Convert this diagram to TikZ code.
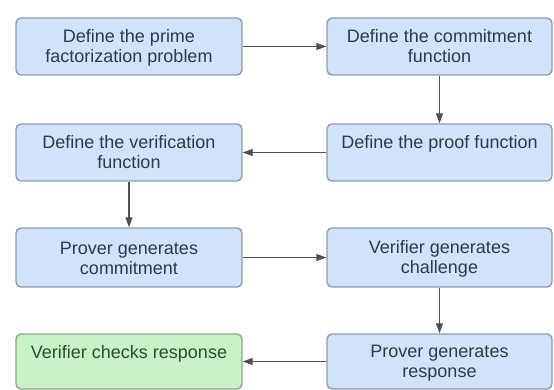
\documentclass[tikz,border=0pt]{standalone}
\usepackage{fontspec}
\setmainfont{Liberation Sans}
\usetikzlibrary{arrows.meta}
\definecolor{bluefill}{HTML}{D0E3FA}
\definecolor{blueline}{HTML}{8C9CB0}
\definecolor{bluetext}{HTML}{2B3A48}
\definecolor{greenfill}{HTML}{C8F3C6}
\definecolor{greenline}{HTML}{8FA58F}
\definecolor{greentext}{HTML}{2F4A30}
\definecolor{arrowcol}{HTML}{505050}
\newcommand\lnstrut{\rule[-3pt]{0pt}{19pt}}
\tikzset{
  flowbox/.style={draw=blueline, fill=bluefill, text=bluetext, line width=1.4pt,
    rounded corners=5pt, align=center, inner sep=0pt,
    font=\fontsize{18}{20}\selectfont},
  leftbox/.style={flowbox, minimum width=226pt},
  rightbox/.style={flowbox, minimum width=225pt},
  greenbox/.style={draw=greenline, fill=greenfill, text=greentext},
  flowarrow/.style={draw=arrowcol, line width=1.2pt, -{Triangle[length=10pt,width=7pt]}}
}
\begin{document}
\begin{tikzpicture}[x=1pt,y=-1pt]
\useasboundingbox (0,0) rectangle (554,390);
\node[leftbox, minimum height=57pt] (prime) at (129,46.5) {\lnstrut Define the prime\\\lnstrut factorization problem};
\node[rightbox, minimum height=57pt] (commit) at (439.5,46.5) {\lnstrut Define the commitment\\\lnstrut function};
\node[rightbox, minimum height=57pt] (proof) at (439.5,152.5) {\lnstrut Define the proof function\\\lnstrut};
\node[leftbox, minimum height=57pt] (verif) at (129,152.5) {\lnstrut Define the verification\\\lnstrut function};
\node[leftbox, minimum height=59pt] (pcommit) at (129,257.5) {\lnstrut Prover generates\\\lnstrut commitment};
\node[rightbox, minimum height=59pt] (vchal) at (439.5,257.5) {\lnstrut Verifier generates\\\lnstrut challenge};
\node[rightbox, minimum height=55pt] (presp) at (439.5,361.5) {\lnstrut Prover generates\\\lnstrut response};
\node[leftbox, greenbox, minimum height=55pt] (vcheck) at (129,361.5) {\lnstrut Verifier checks response\\\lnstrut};
\draw[flowarrow] (prime) -- (commit);
\draw[flowarrow] (commit) -- (proof);
\draw[flowarrow] (proof) -- (verif);
\draw[flowarrow] (verif) -- (pcommit);
\draw[flowarrow] (pcommit) -- (vchal);
\draw[flowarrow] (vchal) -- (presp);
\draw[flowarrow] (presp) -- (vcheck);
\end{tikzpicture}
\end{document}
